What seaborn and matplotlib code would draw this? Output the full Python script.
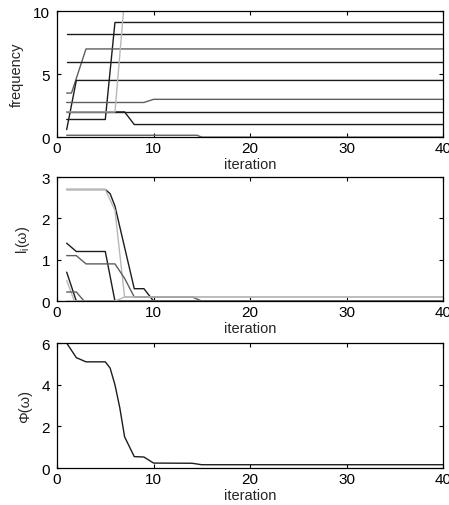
import matplotlib
matplotlib.use("Agg")
import matplotlib.pyplot as plt
import seaborn as sns
import pandas as pd

# ---------------- data ----------------
DARK, MED, LIGHT = "#1c1c1c", "#5e5e5e", "#b8b8b8"

# frequency panel: (x list, y list, colour)
freq_x = [
    [1, 5, 6, 40],
    [1, 40],
    [1, 1.5, 3, 40],
    [1, 40],
    [1, 2, 40],
    [1, 9, 10, 40],
    [1, 40],
    [1, 7, 8, 40],
    [1, 6, 7, 40],
    [1, 14.5, 15, 40],
]
freq_y = [
    [1.4, 1.4, 9.1, 9.1],
    [8.15, 8.15],
    [3.5, 3.5, 7.0, 7.0],
    [6.0, 6.0],
    [0.6, 4.5, 4.5],
    [2.75, 2.75, 3.0, 3.0],
    [2.0, 2.0],
    [2.0, 2.0, 1.0, 1.0],
    [2.0, 2.0, 11.0, 11.0],
    [0.15, 0.15, 0.0, 0.0],
]
freq_c = [DARK, DARK, MED, DARK, DARK, MED, DARK, DARK, LIGHT, MED]

# l_i(omega) panel
l_x = [
    [1, 5, 5.5, 6, 7, 8, 9, 10, 40],
    [1, 5, 6, 7, 40],
    [1, 2, 5, 6, 40],
    [1, 2, 3, 6, 7, 8, 14, 15, 40],
    [1, 2, 40],
    [1, 1.8, 40],
    [1, 2, 2.8, 40],
    [1, 6, 7, 40],
]
l_y = [
    [2.7, 2.7, 2.6, 2.3, 1.3, 0.3, 0.3, 0.0, 0.0],
    [2.7, 2.7, 2.2, 0.1, 0.1],
    [1.4, 1.2, 1.2, 0.0, 0.0],
    [1.1, 1.1, 0.9, 0.9, 0.55, 0.1, 0.1, 0.0, 0.0],
    [0.7, 0.0, 0.0],
    [0.5, 0.0, 0.0],
    [0.22, 0.22, 0.0, 0.0],
    [0.0, 0.0, 0.1, 0.1],
]
l_c = [DARK, LIGHT, DARK, MED, DARK, LIGHT, MED, LIGHT]

# Phi(omega) panel
phi_x = [1, 2, 3, 4, 5, 5.5, 6, 6.5, 7, 8, 9, 10, 14, 15, 40]
phi_y = [6.0, 5.3, 5.1, 5.1, 5.1, 4.8, 4.0, 2.9, 1.5, 0.55, 0.53, 0.24, 0.23, 0.16, 0.16]

x_ticks = [0, 10, 20, 30, 40]

# ---------------- style ----------------
sns.set_theme(style="white")
plt.rcParams["font.family"] = ["Liberation Sans", "DejaVu Sans"]
plt.rcParams["mathtext.fontset"] = "custom"
plt.rcParams["mathtext.rm"] = "Liberation Sans"
plt.rcParams["mathtext.it"] = "Liberation Sans"

fig = plt.figure(figsize=(4.49, 5.06), dpi=100)
fig.patch.set_facecolor("white")

positions = [
    [0.127, 0.727, 0.860, 0.249],
    [0.127, 0.403, 0.860, 0.245],
    [0.127, 0.073, 0.860, 0.247],
]


def long_df(xs, ys):
    rows = []
    for i, (xx, yy) in enumerate(zip(xs, ys)):
        for a, b in zip(xx, yy):
            rows.append({"line": f"s{i}", "iteration": a, "value": b})
    return pd.DataFrame(rows)


def style_ax(ax, ylim, yticks, ylabel):
    ax.set_xlim(0, 40)
    ax.set_ylim(*ylim)
    ax.set_xticks(x_ticks)
    ax.set_yticks(yticks)
    ax.set_xlabel("iteration", fontsize=10.5, labelpad=1)
    ax.set_ylabel(ylabel, fontsize=10.5, labelpad=7)
    ax.tick_params(direction="in", length=3, width=0.8, labelsize=11,
                   top=True, right=True, bottom=True, left=True, pad=3,
                   colors="black")
    ax.tick_params(axis="y", pad=5)
    for s in ax.spines.values():
        s.set_visible(True)
        s.set_color("black")
        s.set_linewidth(0.9)
    ax.grid(False)


axes = [fig.add_axes(p) for p in positions]

# top
df = long_df(freq_x, freq_y)
sns.lineplot(data=df, x="iteration", y="value", hue="line",
             palette={f"s{i}": c for i, c in enumerate(freq_c)},
             estimator=None, sort=False, legend=False, linewidth=1.0, ax=axes[0])
style_ax(axes[0], (0, 10), [0, 5, 10], "frequency")

# middle
df = long_df(l_x, l_y)
sns.lineplot(data=df, x="iteration", y="value", hue="line",
             palette={f"s{i}": c for i, c in enumerate(l_c)},
             estimator=None, sort=False, legend=False, linewidth=1.0, ax=axes[1])
style_ax(axes[1], (0, 3), [0, 1, 2, 3], r"$\mathrm{l}_{\mathrm{i}}(\omega)$")

# bottom
df = pd.DataFrame({"iteration": phi_x, "value": phi_y})
sns.lineplot(data=df, x="iteration", y="value", color=DARK,
             estimator=None, sort=False, linewidth=1.0, ax=axes[2])
style_ax(axes[2], (0, 6), [0, 2, 4, 6], "Φ(ω)")

fig.savefig("out.png", dpi=100, facecolor="white")
